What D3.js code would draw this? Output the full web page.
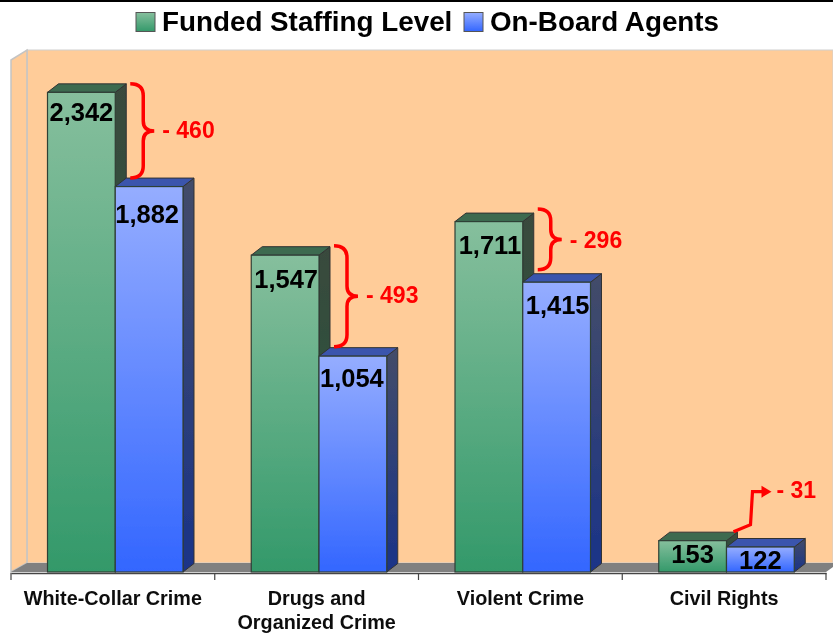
<!DOCTYPE html>
<html>
<head>
<meta charset="utf-8">
<script src="https://cdn.jsdelivr.net/npm/d3@7"></script>
<style>
  html, body { margin: 0; padding: 0; background: #fff; overflow: hidden; }
  text { font-family: "Liberation Sans", Arial, sans-serif; font-weight: bold; }
</style>
</head>
<body>
<svg id="chart" width="833" height="633"></svg>
<script>
const categories = ['White-Collar Crime', 'Drugs and|Organized Crime', 'Violent Crime', 'Civil Rights'];
const series_names = ['Funded Staffing Level', 'On-Board Agents'];
const funded = [2342, 1547, 1711, 153];
const on_board = [1882, 1054, 1415, 122];
const gaps = ['- 460', '- 493', '- 296', '- 31'];
const series_values = [funded, on_board];

const width = 833, height = 633;
const base_y = 572, top_y = 60, left_x = 11, right_x = 826;
const depth_x = 11, depth_y = 8.5;

const svg = d3.select('#chart');

const defs = svg.append('defs');
const soft = defs.append('filter').attr('id', 'soft');
soft.append('feGaussianBlur').attr('stdDeviation', 0.45);

function gradient(id, top, bottom) {
     const g = defs.append('linearGradient').attr('id', id)
          .attr('x1', 0).attr('y1', 0).attr('x2', 0).attr('y2', 1);
     g.append('stop').attr('offset', '0%').attr('stop-color', top);
     g.append('stop').attr('offset', '100%').attr('stop-color', bottom);
}
gradient('front0', '#86bf9d', '#33996a');
gradient('front1', '#95adff', '#3366ff');
gradient('side0', '#3a4a3e', '#1f5a3c');
gradient('side1', '#434c69', '#1a3388');

const colors = [
     { front: 'url(#front0)', side: 'url(#side0)', top: '#3c6a50' },
     { front: 'url(#front1)', side: 'url(#side1)', top: '#3a55ad' }
];

const x0 = d3.scaleBand().domain(categories).range([left_x, right_x]);
const x1 = d3.scaleBand().domain(d3.range(series_names.length)).range([36.5, 172]);
const y = d3.scaleLinear().domain([0, 2500]).range([base_y, top_y]);

const root = svg.append('g').attr('filter', 'url(#soft)');

// black strip along the top of the slide
root.append('rect').attr('width', width).attr('height', 2).attr('fill', '#000');

// chart walls and floor
const back_x = left_x + 16, back_top = top_y - 10, back_base = base_y - 9;
root.append('rect')
     .attr('x', back_x).attr('y', back_top)
     .attr('width', width - back_x).attr('height', back_base - back_top)
     .attr('fill', '#ffcc99').attr('stroke', '#d0d0d0');
root.append('polygon')
     .attr('points', [[left_x, top_y], [back_x, back_top], [back_x, back_base], [left_x, base_y]].join(' '))
     .attr('fill', '#ffcc99').attr('stroke', '#c4c4c4').attr('stroke-width', 1.5);
root.append('polygon')
     .attr('points', [[left_x, base_y], [back_x, back_base], [width, back_base], [width, base_y - 5], [right_x, base_y]].join(' '))
     .attr('fill', '#808080');

// bars, back sides first so the neighbouring front face sits on top
categories.forEach((cat, i) => {
     const g = root.append('g').attr('transform', 'translate(' + x0(cat) + ',0)');
     series_values.forEach((values, s) => {
          const v = values[i];
          const x_left = x1(s), x_right = x1(s) + x1.bandwidth(), y_top = y(v);
          const c = colors[s];
          g.append('polygon')
               .attr('points', [[x_right, y_top], [x_right + depth_x, y_top - depth_y], [x_right + depth_x, base_y - depth_y], [x_right, base_y]].join(' '))
               .attr('fill', c.side).attr('stroke', '#333').attr('stroke-width', 1);
          g.append('polygon')
               .attr('points', [[x_left, y_top], [x_left + depth_x, y_top - depth_y], [x_right + depth_x, y_top - depth_y], [x_right, y_top]].join(' '))
               .attr('fill', c.top).attr('stroke', '#333').attr('stroke-width', 1);
          g.append('rect')
               .attr('x', x_left).attr('y', y_top)
               .attr('width', x1.bandwidth()).attr('height', base_y - y_top)
               .attr('fill', c.front).attr('stroke', '#2f3f36').attr('stroke-width', 1.2);
     });
});

// value labels, nudged by hand where the original sits off centre
const label_dx = [[0, -2], [1, -1], [1, 1], [0, 0]];
const label_dy = [[-3, 4], [1, -1], [0, 0], [0, 0]];
categories.forEach((cat, i) => {
     series_values.forEach((values, s) => {
          const v = values[i];
          root.append('text')
               .attr('x', x0(cat) + x1(s) + x1.bandwidth() / 2 + label_dx[i][s])
               .attr('y', y(v) + (v < 500 ? 13 : 23) + label_dy[i][s])
               .attr('text-anchor', 'middle')
               .attr('dominant-baseline', 'central')
               .attr('font-size', 25.5)
               .attr('fill', '#000')
               .text(d3.format(',')(v));
     });
});

// red braces showing the gap between the two bars
function brace(x, y_a, y_b) {
     const mid = (y_a + y_b) / 2, w = 13, tip = 24;
     return 'M' + x + ',' + y_a +
          'Q' + (x + w) + ',' + y_a + ' ' + (x + w) + ',' + (y_a + 12) +
          'L' + (x + w) + ',' + (mid - 10) +
          'Q' + (x + w) + ',' + mid + ' ' + (x + tip) + ',' + mid +
          'Q' + (x + w) + ',' + mid + ' ' + (x + w) + ',' + (mid + 10) +
          'L' + (x + w) + ',' + (y_b - 12) +
          'Q' + (x + w) + ',' + y_b + ' ' + x + ',' + y_b;
}
const brace_shift = [0, -1, -4];
const gap_label_dy = [-1, -1, 1];
brace_shift.forEach((shift, i) => {
     const x = x0(categories[i]) + x1(0) + x1.bandwidth() + depth_x + 4;
     const y_a = y(funded[i]) - depth_y + shift;
     const y_b = y(on_board[i]) - depth_y + shift;
     root.append('path').attr('d', brace(x, y_a, y_b))
          .attr('fill', 'none').attr('stroke', '#ff0000').attr('stroke-width', 3.5);
     root.append('text')
          .attr('x', x + 32).attr('y', (y_a + y_b) / 2 + gap_label_dy[i])
          .attr('dominant-baseline', 'central')
          .attr('font-size', 23).attr('fill', '#ff0000')
          .text(gaps[i]);
});

// the last category is too small for a brace, it gets an arrow
const arrow_x = x0(categories[3]) + x1(1);
const arrow_y = y(funded[3]);
root.append('path')
     .attr('d', 'M' + (arrow_x + 7) + ',' + (arrow_y - 9) +
          'L' + (arrow_x + 24) + ',' + (arrow_y - 16) +
          'L' + (arrow_x + 26) + ',' + (arrow_y - 49) +
          'L' + (arrow_x + 37) + ',' + (arrow_y - 49))
     .attr('fill', 'none').attr('stroke', '#ff0000').attr('stroke-width', 3.2);
root.append('polygon')
     .attr('points', [[arrow_x + 35, arrow_y - 55], [arrow_x + 45, arrow_y - 49], [arrow_x + 35, arrow_y - 43]].join(' '))
     .attr('fill', '#ff0000');
root.append('text')
     .attr('x', arrow_x + 50).attr('y', arrow_y - 51)
     .attr('dominant-baseline', 'central')
     .attr('font-size', 23).attr('fill', '#ff0000')
     .text(gaps[3]);

// x axis: labels from d3.axisBottom, ticks sit on the band edges
const axis_y = base_y + 1;
const axis_g = root.append('g')
     .attr('transform', 'translate(0,' + axis_y + ')')
     .call(d3.axisBottom(x0).tickSize(0).tickPadding(0));
axis_g.select('.domain').attr('stroke', '#444').attr('stroke-width', 1.5);
axis_g.selectAll('.tick text').each(function (d) {
     const t = d3.select(this).text(null)
          .attr('font-size', 19.8).attr('fill', '#111').attr('y', 0).attr('dy', null);
     d.split('|').forEach((line, i) => {
          t.append('tspan').attr('x', 0).attr('y', 32 + i * 24).text(line);
     });
});
const edges = categories.map(c => x0(c)).concat([right_x]);
axis_g.selectAll('line.edge')
     .data(edges)
     .enter()
     .append('line')
     .attr('class', 'edge')
     .attr('x1', d => d).attr('x2', d => d)
     .attr('y1', 0).attr('y2', 7)
     .attr('stroke', '#444').attr('stroke-width', 1.2);

// legend
const legend_items = [{ x: 136, tx: 162 }, { x: 464, tx: 490 }];
series_names.forEach((name, i) => {
     root.append('rect')
          .attr('x', legend_items[i].x).attr('y', 12.5)
          .attr('width', 19).attr('height', 19)
          .attr('fill', colors[i].front).attr('stroke', '#555').attr('stroke-width', 1);
     root.append('text')
          .attr('x', legend_items[i].tx).attr('y', 31)
          .attr('font-size', 27.8).attr('fill', '#000')
          .text(name);
});
</script>
</body>
</html>
